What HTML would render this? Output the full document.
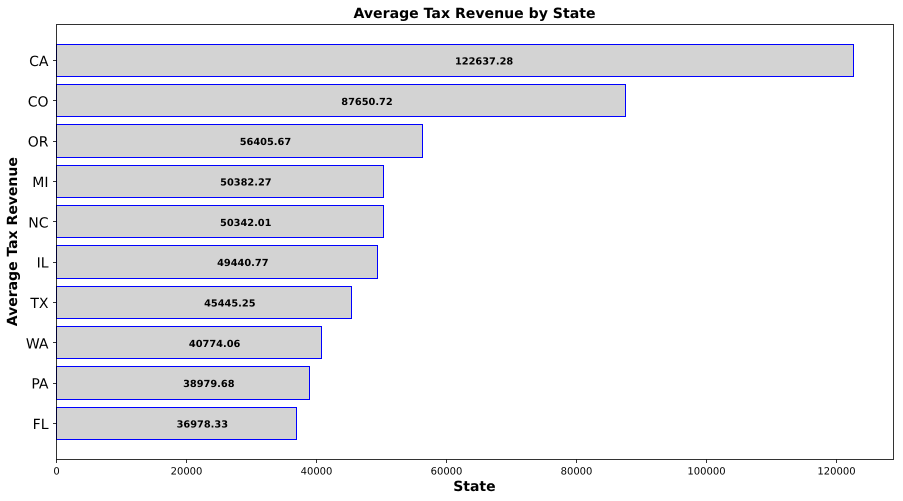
<!DOCTYPE html>
<html lang="en">
<head>
<meta charset="utf-8">
<title>Average Tax Revenue by State</title>
<style>
  html, body { margin: 0; padding: 0; background: #fff; width: 903px; height: 501px; overflow: hidden; }
  svg { display: block; font-family: "DejaVu Sans", "Liberation Sans", sans-serif; text-rendering: geometricPrecision; }
  text { fill: #000; }
</style>
</head>
<body>
<svg id="chart" xmlns="http://www.w3.org/2000/svg" width="903" height="501" viewBox="0 0 903 501">
  <rect x="0" y="0" width="903" height="501" fill="#ffffff"/>
  <g id="bars"></g>
  <g id="bar-labels"></g>
  <rect x="56.5" y="24.5" width="837" height="435" fill="none" stroke="#000" stroke-width="0.8"/>
  <g id="x-ticks"></g>
  <g id="y-ticks"></g>
  <text x="474.5" y="18" text-anchor="middle" font-size="14.1" font-weight="bold">Average Tax Revenue by State</text>
  <text x="474.4" y="491" text-anchor="middle" font-size="14" font-weight="bold">State</text>
  <text transform="translate(17,241.7) rotate(-90)" text-anchor="middle" font-size="14" font-weight="bold">Average Tax Revenue</text>
</svg>
<script>
const categories = ["CA", "CO", "OR", "MI", "NC", "IL", "TX", "WA", "PA", "FL"];
const revenues = [122637.28, 87650.72, 56405.67, 50382.27, 50342.01, 49440.77, 45445.25, 40774.06, 38979.68, 36978.33];
const xTickValues = [0, 20000, 40000, 60000, 80000, 100000, 120000];

const NS = "http://www.w3.org/2000/svg";
const plotLeft = 56;
const plotWidth = 837;
const plotBottom = 459.5;
const firstBandCenter = 60.2;
const lastBandCenter = 423.2;
const barFraction = 0.8;

function maxValue() {
  return Math.max.apply(null, revenues) * 1.05;
}
function xScale(v) {
  return plotLeft + (v / maxValue()) * plotWidth;
}
function yScale(i) {
  return firstBandCenter + i * (lastBandCenter - firstBandCenter) / (categories.length - 1);
}
function barHeight() {
  return barFraction * (yScale(1) - yScale(0));
}
function make(tag, attrs) {
  const el = document.createElementNS(NS, tag);
  for (const k in attrs) el.setAttribute(k, attrs[k]);
  return el;
}

const barsG = document.getElementById("bars");
const labelsG = document.getElementById("bar-labels");
const xTicksG = document.getElementById("x-ticks");
const yTicksG = document.getElementById("y-ticks");

revenues.forEach(function (value, i) {
  const cy = yScale(i);
  const h = barHeight();
  const top = Math.floor(cy - h / 2);
  const bottom = Math.floor(cy + h / 2);
  const right = Math.floor(xScale(value));
  const bar = make("rect", {
    x: Math.floor(plotLeft) + 0.5,
    y: top + 0.5,
    width: right - Math.floor(plotLeft),
    height: bottom - top,
    fill: "#d3d3d3",
    stroke: "#0000ff",
    "stroke-width": 1
  });
  
  
  barsG.appendChild(bar);

  const label = make("text", {
    x: xScale(value / 2) + 0.4,
    y: cy + 4.3,
    "font-size": 9.8,
    "font-weight": "bold"
  });
  
  
  label.textContent = value.toFixed(2);
  labelsG.appendChild(label);

  const tickY = Math.floor(cy + 0.2) + 0.5;
  const tick = make("line", {
    x1: plotLeft - 3,
    x2: plotLeft + 0.5,
    y1: tickY,
    y2: tickY,
    stroke: "#000",
    "stroke-width": 0.8
  });
  
  
  yTicksG.appendChild(tick);

  const tickLabel = make("text", {
    x: plotLeft - 7.5,
    y: cy + 5.8,
    "text-anchor": "end",
    "font-size": 14
  });
  
  
  tickLabel.textContent = categories[i];
  yTicksG.appendChild(tickLabel);
});

xTickValues.forEach(function (v) {
  const x = Math.floor(xScale(v)) + 0.5;
  const tick = make("line", {
    x1: x,
    x2: x,
    y1: plotBottom,
    y2: plotBottom + 3.5,
    stroke: "#000",
    "stroke-width": 0.8
  });
  
  
  xTicksG.appendChild(tick);

  const tickLabel = make("text", {
    x: x,
    y: plotBottom + 15,
    "text-anchor": "middle",
    "font-size": 10
  });
  
  
  tickLabel.textContent = String(v);
  xTicksG.appendChild(tickLabel);
});
</script>
</body>
</html>
